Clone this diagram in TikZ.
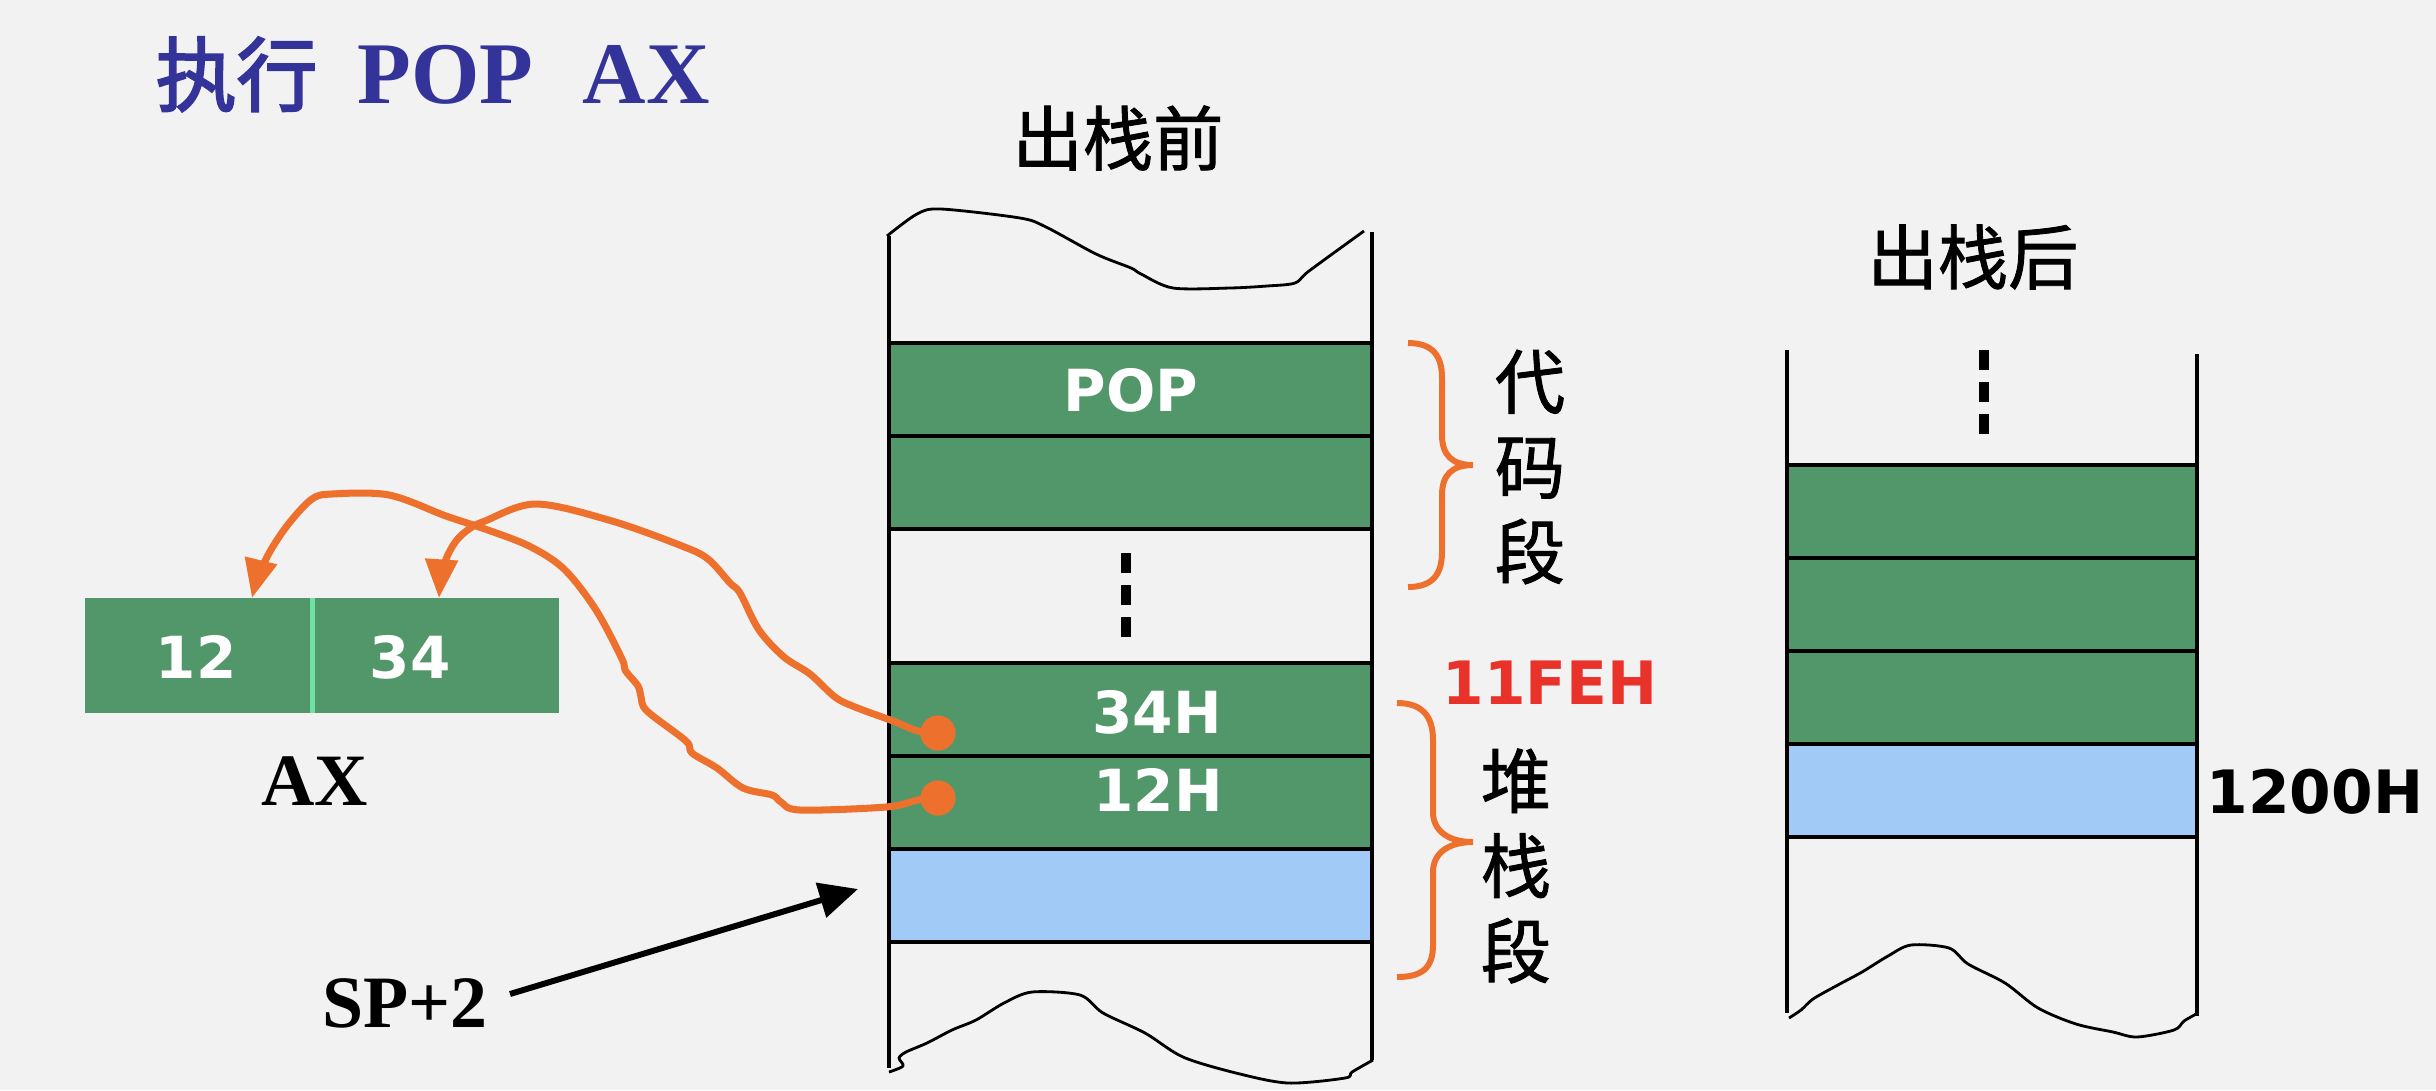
\documentclass[tikz,border=0pt]{standalone}
\usepackage{fontspec}
\setmainfont{Liberation Serif}
\newfontfamily\vsans{DejaVu Sans}
\newfontfamily\cjk{Noto Sans CJK SC}[FakeBold=1.2]
\newfontfamily\cjkb{Noto Sans CJK SC}[FakeBold=2.5]
\usetikzlibrary{arrows.meta}
\definecolor{bg}{RGB}{242,242,242}
\definecolor{cellg}{RGB}{82,151,106}
\definecolor{cellb}{RGB}{162,202,246}
\definecolor{orng}{RGB}{237,113,45}
\definecolor{titleblue}{RGB}{51,51,153}
\definecolor{redlbl}{RGB}{232,50,42}
\definecolor{mint}{RGB}{110,225,165}
\begin{document}
\begin{tikzpicture}[x=0.01cm,y=-0.01cm,
  rowbox/.style={draw=black, line width=1.1pt, minimum height=0.93cm, inner sep=0pt, outer sep=0pt},
  midrow/.style={rowbox, minimum width=4.83cm},
  rightrow/.style={rowbox, minimum width=4.10cm},
  regcell/.style={fill=cellg, minimum height=1.15cm, inner sep=0pt, outer sep=0pt},
  celltext/.style={text=white, font=\vsans\bfseries\fontsize{16.5}{18}\selectfont, inner sep=0pt},
  addrtext/.style={font=\vsans\bfseries\fontsize{17}{19}\selectfont, inner sep=0pt},
  cjklbl/.style={font=\cjk\fontsize{20}{24.2}\selectfont, inner sep=0pt, align=center},
  serifbold/.style={font=\bfseries\fontsize{21}{24}\selectfont, inner sep=0pt},
  wall/.style={line width=0.9pt},
  wave/.style={line width=0.8pt, line join=round},
  orangeline/.style={draw=orng, line width=2pt, line join=round, -{Triangle[length=11pt,width=9pt]}},
  bracestyle/.style={draw=orng, line width=1.7pt},
  dotnode/.style={circle, fill=orng, inner sep=0pt, minimum size=10pt},
  dashcol/.style={line width=2.85pt, dash pattern=on 5.7pt off 3.4pt},
]
\fill[bg] (0,0) rectangle (2436,1090);
\useasboundingbox (0,0) rectangle (2436,1090);

% Title
\node[anchor=base west, text=titleblue, font=\cjkb\fontsize{23}{26}\selectfont, inner sep=0pt] (t1) at (155,105) {执行};
\node[anchor=base west, text=titleblue, font=\bfseries\fontsize{25}{28}\selectfont, inner sep=0pt] (t2) at (357,103) {POP\hspace{14pt}AX};

% ---------- middle stack (before pop)
\node[cjklbl] (beforelbl) at (1118,138) {出栈前};
\node[midrow, fill=cellg] (popcell) at (1130.5,389.5) {};
\node[midrow, fill=cellg] (code2) at (1130.5,482.5) {};
\node[midrow, fill=cellg] (c34) at (1130.5,709.5) {};
\node[midrow, fill=cellg] (c12) at (1130.5,802.5) {};
\node[midrow, fill=cellb] (cblue) at (1130.5,895.5) {};
\draw[wall] (889,236) -- (889,1068);
\draw[wall] (1372,232) -- (1372,1060);
\draw[wave] plot[smooth, tension=0.5] coordinates {(887,236) (917,214) (941,209) (1020,218) (1046,227) (1096,254) (1131,268) (1141,274) (1173,288) (1230,288) (1267,286) (1295,283) (1309,271) (1364,231)};
\draw[wave] plot[smooth, tension=0.5] coordinates {(889,1072) (903,1066) (899,1058) (906,1052) (927,1043) (952,1030) (976,1020) (1004,1003) (1032,992) (1080,995) (1103,1013) (1145,1033) (1183,1057) (1236,1073) (1288,1083) (1345,1078) (1352,1072) (1373,1060)};
\draw[dashcol] (1126,553) -- (1126,637);
\node[celltext] (poplbl) at (1131,390) {POP};
\node[celltext] (lbl34) at (1157,712) {34H};
\node[celltext] (lbl12) at (1158,790) {12H};

% braces and segment labels
\draw[bracestyle] (1408,343) .. controls (1432,343) and (1442,355) .. (1442,378) -- (1442,435) .. controls (1442,455) and (1452,465) .. (1473,465) .. controls (1452,465) and (1442,475) .. (1442,495) -- (1442,552) .. controls (1442,575) and (1432,587) .. (1408,587);
\draw[bracestyle] (1397,703) .. controls (1422,703) and (1433,716) .. (1433,740) -- (1433,812) .. controls (1433,832) and (1450,842) .. (1473,842) .. controls (1450,842) and (1433,852) .. (1433,872) -- (1433,945) .. controls (1433,968) and (1422,977) .. (1397,977);
\node[cjklbl] (codeseg) at (1530,467) {代\\码\\段};
\node[cjklbl] (stackseg) at (1516,866) {堆\\栈\\段};
\node[addrtext, text=redlbl] (addr1) at (1550,683) {11FEH};

% ---------- right stack (after pop)
\node[cjklbl] (afterlbl) at (1973,257) {出栈后};
\node[rightrow, fill=cellg] (ra) at (1992,511.5) {};
\node[rightrow, fill=cellg] (rb) at (1992,604.5) {};
\node[rightrow, fill=cellg] (rc) at (1992,697.5) {};
\node[rightrow, fill=cellb] (rd) at (1992,790.5) {};
\draw[wall] (1787,350) -- (1787,1013);
\draw[wall] (2197,354) -- (2197,1016);
\draw[dashcol] (1984,350) -- (1984,434);
\draw[wave] plot[smooth, tension=0.5] coordinates {(1789,1018) (1801,1010) (1813,999) (1836,986) (1862,972) (1888,956) (1911,945) (1949,948) (1968,964) (2005,983) (2038,1008) (2076,1024) (2113,1032) (2137,1037) (2174,1030) (2184,1021) (2198,1013)};
\node[addrtext, anchor=west] (addr2) at (2206,792) {1200H};

% ---------- AX register
\node[regcell, minimum width=2.27cm] (r12) at (198.5,655.5) {};
\node[regcell, minimum width=2.47cm] (r34) at (435.5,655.5) {};
\draw[mint, line width=1.4pt] (r12.north east) -- (r12.south east);
\node[celltext] (v12) at (196,657) {12};
\node[celltext] (v34) at (410,657) {34};
\node[serifbold] (axlbl) at (315,781) {AX};

% ---------- orange transfer curves
\coordinate (d34c) at (938,733);
\coordinate (d12c) at (938,798);
\coordinate (tip34) at (439,598);
\coordinate (tip12) at (252,598);
\draw[orangeline] plot[smooth, tension=0.55] coordinates {(d34c) (918,731) (893,721) (855,707) (835,697) (810,674) (784,657) (759,630) (740,593) (730,583) (708,559) (682,546) (612,521) (536,504) (485,521) (469,529) (456,541) (446,559) (441,578) (tip34)};
\draw[orangeline] plot[smooth, tension=0.55] coordinates {(d12c) (918,800) (886,807) (800,810) (781,802) (772,795) (743,788) (717,768) (692,753) (686,741) (647,711) (641,697) (638,686) (625,670) (622,659) (596,610) (564,569) (529,546) (485,529) (446,516) (389,495) (332,494) (312,499) (290,522) (272,548) (259,574) (tip12)};
\node[dotnode] (d34) at (d34c) {};
\node[dotnode] (d12) at (d12c) {};

% ---------- SP+2 pointer
\node[serifbold] (sp) at (405,1003) {SP+2};
\coordinate (spfrom) at (510,994);
\coordinate (spto) at (858,889);
\draw[line width=1.7pt, -{Triangle[length=11pt,width=10pt]}] (spfrom) -- (spto);
\end{tikzpicture}
\end{document}
